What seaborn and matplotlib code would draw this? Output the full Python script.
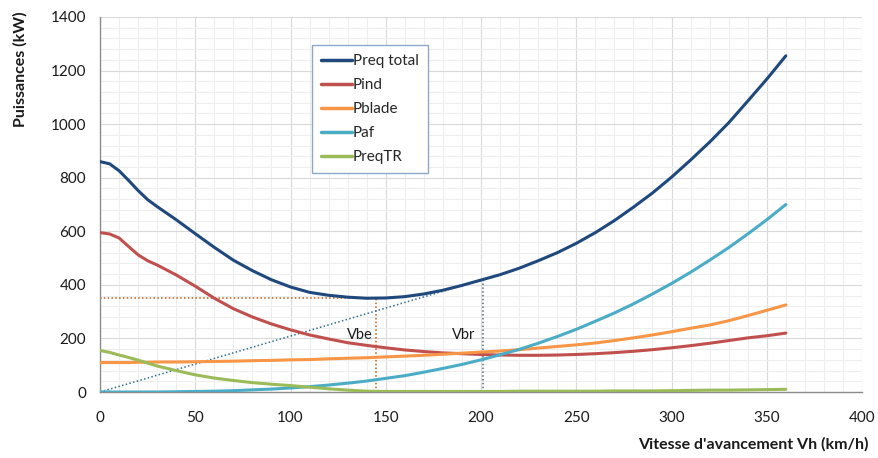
import numpy as np
import pandas as pd
import matplotlib
matplotlib.use("Agg")
import matplotlib.pyplot as plt
import seaborn as sns
from matplotlib.ticker import MultipleLocator

vh = [0, 5, 10, 15, 20, 25, 30, 40, 50, 60, 70, 80, 90, 100, 110, 120, 130, 140, 150, 160, 170, 180,
      190, 200, 210, 220, 230, 240, 250, 260, 270, 280, 290, 300, 310, 320, 330, 340, 350, 360]
preq_total = [860, 852, 826, 790, 752, 718, 692, 643, 591, 540, 492, 453, 419, 392, 372, 361, 354,
              350, 351, 356, 366, 380, 398, 418, 438, 462, 490, 520, 555, 595, 640, 690, 743, 802,
              866, 933, 1005, 1086, 1168, 1255]
pind = [595, 590, 575, 543, 512, 490, 474, 437, 395, 350, 311, 280, 254, 232, 213, 198, 184, 174,
        165, 157, 151, 146, 143, 140, 138, 137, 137, 138, 140, 143, 147, 152, 158, 165, 173, 182,
        192, 202, 210, 220]
pblade = [110, 110, 110, 110, 111, 111, 112, 112, 113, 114, 115, 117, 118, 120, 121, 124, 126, 128,
          131, 134, 137, 141, 145, 149, 153, 158, 164, 170, 176, 183, 192, 202, 213, 225, 238, 250,
          266, 285, 305, 325]
paf = [0, 0, 0, 0, 0, 0, 0, 1, 2, 3, 5, 8, 11, 15, 20, 26, 33, 41, 51, 61, 74, 88, 103, 120, 139,
       159, 182, 207, 234, 264, 295, 329, 366, 405, 447, 492, 539, 590, 643, 700]
preqtr = [155, 148, 138, 129, 119, 108, 97, 80, 64, 52, 43, 35, 29, 24, 18, 12, 7, 3, 2, 2, 2, 2,
          2, 2, 2, 3, 3, 3, 3, 3, 4, 4, 4, 5, 6, 7, 7, 8, 9, 10]

series_names = ["Preq total", "Pind", "Pblade", "Paf", "PreqTR"]
series_colors = ["#1F497D", "#C0504D", "#F79646", "#4BACC6", "#9BBB59"]

vbe = 145
pbe = 350
vbr = 201
pbr = 420

df = pd.DataFrame({"Vh": vh, "Preq total": preq_total, "Pind": pind, "Pblade": pblade,
                   "Paf": paf, "PreqTR": preqtr})
long = df.melt(id_vars="Vh", var_name="serie", value_name="P")

sns.set_style("white")
plt.rcParams["font.family"] = ["Lato", "DejaVu Sans"]

fig = plt.figure(figsize=(8.79, 4.58), dpi=100)
ax = fig.add_axes([0.1138, 0.1441, 0.9807 - 0.1138, 0.9629 - 0.1441])

sns.lineplot(data=long, x="Vh", y="P", hue="serie", hue_order=series_names,
             palette=dict(zip(series_names, series_colors)), linewidth=2.2, ax=ax, zorder=3)
for ln in ax.get_lines():
    ln.set_solid_joinstyle("round")
    ln.set_solid_capstyle("round")

# construction lines
ax.plot([0, vbe], [pbe, pbe], linestyle=(0, (1, 1.5)), color="#C55A11", linewidth=1.1, zorder=2)
ax.plot([vbe, vbe], [0, pbe], linestyle=(0, (1, 1.5)), color="#C55A11", linewidth=1.1, zorder=2)
ax.plot([0, vbr * 0.97], [0, pbr * 0.97], linestyle=(0, (1, 1.5)), color="#31708F", linewidth=1.1, zorder=2)
ax.plot([vbr, vbr], [0, pbr], linestyle=(0, (1, 1.5)), color="#4F6B7F", linewidth=1.1, zorder=2)
ax.text(vbe - 2, 213, "Vbe", ha="right", va="center", fontsize=10.5, color="#1a1a1a")
ax.text(vbr - 4, 213, "Vbr", ha="right", va="center", fontsize=10.5, color="#1a1a1a")

ax.set_xlim(0, 400)
ax.set_ylim(0, 1400)
ax.xaxis.set_major_locator(MultipleLocator(50))
ax.xaxis.set_minor_locator(MultipleLocator(10))
ax.yaxis.set_major_locator(MultipleLocator(200))
ax.yaxis.set_minor_locator(MultipleLocator(40))
ax.grid(which="major", color="#DADADA", linewidth=0.8, zorder=0)
ax.grid(which="minor", color="#EEEEEE", linewidth=0.8, zorder=0)
ax.set_axisbelow(True)

for s in ["top", "right"]:
    ax.spines[s].set_visible(False)
for s in ["left", "bottom"]:
    ax.spines[s].set_color("#8C8C8C")
    ax.spines[s].set_linewidth(1.0)
ax.tick_params(axis="both", which="major", direction="out", length=4, color="#8C8C8C",
               labelsize=11, labelcolor="#1a1a1a", pad=6)
ax.tick_params(axis="both", which="minor", length=0)
ax.tick_params(axis="x", pad=10)

ax.set_xlabel("Vitesse d'avancement Vh (km/h)", fontsize=11.5, fontweight="bold", color="#1a1a1a")
ax.xaxis.set_label_coords(1.008, -0.12)
ax.xaxis.label.set_horizontalalignment("right")
ax.set_ylabel("Puissances (kW)", fontsize=11.5, fontweight="bold", color="#1a1a1a")
ax.yaxis.set_label_coords(-0.095, 0.86)

leg = ax.legend(title=None, loc="upper left", bbox_to_anchor=(0.278, 0.925), fontsize=11,
                frameon=True, fancybox=False, handlelength=2.0, handletextpad=0.1,
                labelspacing=0.65, borderpad=0.6, borderaxespad=0)
leg.get_frame().set_edgecolor("#8EA9C8")
leg.get_frame().set_linewidth(1.0)
leg.get_frame().set_facecolor("white")
leg.get_frame().set_alpha(1)
for line in leg.get_lines():
    line.set_linewidth(2.5)

fig.savefig("out.png", dpi=100)
